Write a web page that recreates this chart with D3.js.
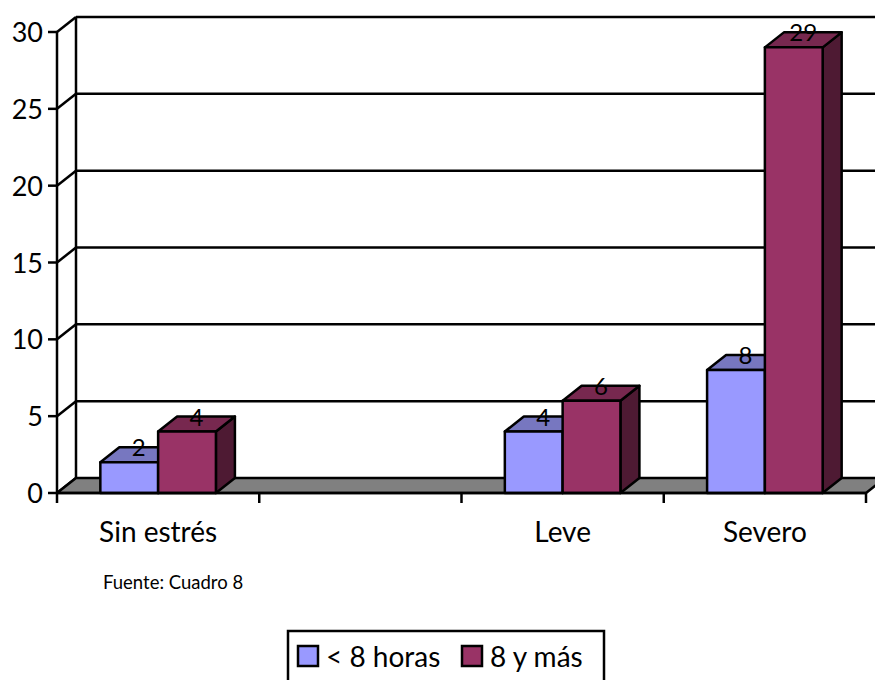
<!DOCTYPE html>
<html>
<head>
<meta charset="utf-8">
<script src="https://cdn.jsdelivr.net/npm/d3@7/dist/d3.min.js"></script>
<style>
  body { margin: 0; background: #fff; }
  svg { display: block; font-family: Lato, "Open Sans", sans-serif; }
</style>
</head>
<body>
<svg id="chart" width="875" height="680"></svg>
<script>
// data
var categories = ["Sin estrés", "", "Leve", "Severo"];
var seriesNames = ["< 8 horas", "8 y más"];
var menosDe8 = [2, null, 4, 8];
var ochoYMas = [4, null, 6, 29];
var yTicks = [0, 5, 10, 15, 20, 25, 30];

var colors = {
  front: ["#9999ff", "#993366"],
  top: ["#7777c0", "#77284f"],
  side: ["#4d4d80", "#4e1a33"]
};

var depthX = 19, depthY = -15;
var plotLeft = 57, plotRight = 866, plotBottom = 493, plotTop = 32;

var svg = d3.select("#chart");

var x = d3.scaleBand().domain(categories).range([plotLeft, plotRight]).paddingInner(0).paddingOuter(0);
var xSeries = d3.scaleBand().domain(seriesNames).range([0, x.bandwidth()]).paddingInner(0).paddingOuter(0.75);
var y = d3.scaleLinear().domain([0, 30]).range([plotBottom, plotTop]);

/* walls */
var walls = svg.append("g").attr("stroke", "#000").attr("stroke-width", 2.5).attr("fill", "none");

walls.selectAll("line.grid")
  .data(yTicks.slice(1))
  .enter().append("line")
  .attr("x1", plotLeft + depthX).attr("x2", plotRight + depthX)
  .attr("y1", function(d) { return y(d) + depthY; })
  .attr("y2", function(d) { return y(d) + depthY; });

walls.selectAll("line.side")
  .data(yTicks)
  .enter().append("line")
  .attr("x1", plotLeft).attr("x2", plotLeft + depthX)
  .attr("y1", function(d) { return y(d); })
  .attr("y2", function(d) { return y(d) + depthY; });

walls.append("line")
  .attr("x1", plotLeft + depthX).attr("x2", plotLeft + depthX)
  .attr("y1", y(30) + depthY).attr("y2", y(0) + depthY);

/* floor */
svg.append("polygon")
  .attr("points", [[plotLeft, plotBottom], [plotRight, plotBottom], [plotRight + depthX, plotBottom + depthY], [plotLeft + depthX, plotBottom + depthY]].join(" "))
  .attr("fill", "#808080")
  .attr("stroke", "#000")
  .attr("stroke-width", 2.5)
  .attr("stroke-linejoin", "round");

/* bars */
var rows = categories.map(function(c, i) {
  return [
    { cat: c, s: 0, value: menosDe8[i] },
    { cat: c, s: 1, value: ochoYMas[i] }
  ];
});

var bars = svg.append("g");
rows.forEach(function(row) {
  row.forEach(function(d) {
    if (d.value == null) return;
    var bx = x(d.cat) + xSeries(seriesNames[d.s]);
    var bw = xSeries.bandwidth();
    var yv = y(d.value), y0 = y(0);
    var g = bars.append("g").attr("stroke", "#000").attr("stroke-width", 2.5).attr("stroke-linejoin", "round");
    g.append("polygon")
      .attr("points", [[bx + bw, yv], [bx + bw + depthX, yv + depthY], [bx + bw + depthX, y0 + depthY], [bx + bw, y0]].join(" "))
      .attr("fill", colors.side[d.s]);
    g.append("polygon")
      .attr("points", [[bx, yv], [bx + depthX, yv + depthY], [bx + bw + depthX, yv + depthY], [bx + bw, yv]].join(" "))
      .attr("fill", colors.top[d.s]);
    g.append("rect")
      .attr("x", bx).attr("y", yv)
      .attr("width", bw).attr("height", y0 - yv)
      .attr("fill", colors.front[d.s]);
  });
});

/* data labels */
rows.forEach(function(row) {
  row.forEach(function(d) {
    if (d.value == null) return;
    svg.append("text")
      .attr("x", x(d.cat) + xSeries(seriesNames[d.s]) + xSeries.bandwidth() / 2 + depthX / 2)
      .attr("y", y(d.value) - 6)
      .attr("text-anchor", "middle")
      .attr("font-size", 24)
      .attr("fill", "#000")
      .text(d.value);
  });
});

/* axes */
var axes = svg.append("g").attr("stroke", "#000").attr("stroke-width", 2.5);
axes.append("line").attr("x1", plotLeft).attr("x2", plotLeft).attr("y1", y(30)).attr("y2", plotBottom + 10);
axes.append("line").attr("x1", plotLeft).attr("x2", plotRight).attr("y1", plotBottom).attr("y2", plotBottom);
axes.selectAll("line.ytick")
  .data(yTicks)
  .enter().append("line")
  .attr("x1", plotLeft - 9).attr("x2", plotLeft)
  .attr("y1", function(d) { return y(d); })
  .attr("y2", function(d) { return y(d); });
axes.selectAll("line.xtick")
  .data(categories.map(function(c) { return x(c) + x.bandwidth(); }))
  .enter().append("line")
  .attr("x1", function(d) { return d; }).attr("x2", function(d) { return d; })
  .attr("y1", plotBottom).attr("y2", plotBottom + 10);

svg.selectAll("text.ylab")
  .data(yTicks)
  .enter().append("text")
  .attr("x", 43)
  .attr("y", function(d) { return y(d) + 10; })
  .attr("text-anchor", "end")
  .attr("font-size", 27)
  .text(function(d) { return d; });

svg.selectAll("text.xlab")
  .data(categories)
  .enter().append("text")
  .attr("x", function(d) { return x(d) + x.bandwidth() / 2; })
  .attr("y", 542)
  .attr("text-anchor", "middle")
  .attr("font-size", 28)
  .text(function(d) { return d; });

svg.append("text")
  .attr("x", 103).attr("y", 589)
  .attr("font-size", 18.5)
  .text("Fuente: Cuadro 8");

/* legend */
var legend = svg.append("g");
legend.append("rect")
  .attr("x", 288).attr("y", 631).attr("width", 316).attr("height", 60)
  .attr("fill", "#fff").attr("stroke", "#000").attr("stroke-width", 2.5);
var legendX = [298, 462];
seriesNames.forEach(function(name, i) {
  legend.append("rect")
    .attr("x", legendX[i]).attr("y", 646).attr("width", 20).attr("height", 20)
    .attr("fill", colors.front[i]).attr("stroke", "#000").attr("stroke-width", 2.5);
  legend.append("text")
    .attr("x", legendX[i] + 28).attr("y", 667)
    .attr("font-size", 28)
    .text(name);
});
</script>
</body>
</html>
